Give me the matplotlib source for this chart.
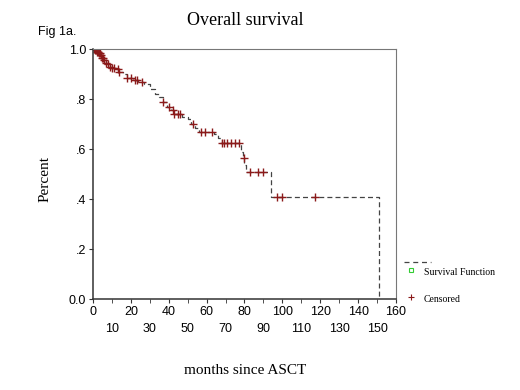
import numpy as np
import matplotlib.pyplot as plt
from matplotlib.lines import Line2D

# Kaplan-Meier step values
event_months = [0, 1, 2, 3, 4, 5, 6, 7, 8, 9, 10, 12, 14, 16, 18, 21, 24, 27, 30, 33,
                35, 37, 39, 41, 43, 47, 50, 52, 54, 56, 64, 66, 68, 78, 79, 80, 81, 94, 151]
survival = [1.0, .995, .99, .985, .975, .965, .955, .945, .94, .93, .925, .92, .91, .90, .885,
            .875, .87, .86, .84, .82, .81, .79, .77, .755, .74, .73, .72, .70, .685, .67,
            .66, .645, .625, .59, .565, .535, .51, .41, 0.0]

# censored observations (months)
censored_months = [0.5, 1, 1.5, 2, 2.5, 3, 3.5, 4, 5, 5.5, 6, 7, 8, 9, 10, 11, 13, 14, 18, 20,
                   22, 23, 26, 37, 40, 42, 43, 45, 46, 53, 57, 59, 63, 68, 69, 71, 73, 75, 77,
                   79.5, 83, 87, 90, 97, 100, 117]

even_ticks = [0, 20, 40, 60, 80, 100, 120, 140, 160]
odd_ticks = [10, 30, 50, 70, 90, 110, 130, 150]
y_ticks = [0.0, 0.2, 0.4, 0.6, 0.8, 1.0]
y_labels = ["0.0", ".2", ".4", ".6", ".8", "1.0"]

line_col = "#444444"
cens_col = "#8b1a1a"
serif = "Liberation Serif"
sans = "Liberation Sans"

fig = plt.figure(figsize=(5.2, 3.9), dpi=100)
ax = fig.add_axes([0.1788, 0.2333, 0.5827, 0.641])

ax.step(event_months, survival, where="post", color=line_col, lw=0.9,
        linestyle=(0, (4, 2.5)))

# survival value at each censored time
idx = np.searchsorted(event_months, censored_months, side="right") - 1
cens_surv = np.array(survival)[idx]
ax.plot(censored_months, cens_surv, linestyle="none", marker="+", color=cens_col,
        markersize=5.5, markeredgewidth=1.0)

ax.set_xlim(0, 160)
ax.set_ylim(0, 1.0)
ax.set_xticks(even_ticks)
ax.set_xticks(odd_ticks, minor=True)
ax.set_xticklabels([str(t) for t in even_ticks], fontsize=9, family=sans)
ax.set_xticklabels([str(t) for t in odd_ticks], minor=True, fontsize=9, family=sans)
ax.tick_params(axis="x", which="major", length=3, pad=2, color="#333333")
ax.tick_params(axis="x", which="minor", length=3, pad=14, color="#333333")
ax.set_yticks(y_ticks)
ax.set_yticklabels(y_labels, fontsize=9, family=sans)
ax.tick_params(axis="y", length=3, pad=2, color="#333333")

for s in ["left", "bottom"]:
    ax.spines[s].set_color("#333333")
    ax.spines[s].set_linewidth(1.1)
for s in ["top", "right"]:
    ax.spines[s].set_color("#777777")
    ax.spines[s].set_linewidth(0.8)

fig.text(0.471, 0.948, "Overall survival", ha="center", va="center", fontsize=13, family=serif)
fig.text(0.073, 0.918, "Fig 1a.", ha="left", va="center", fontsize=9, family=sans)
fig.text(0.087, 0.54, "Percent", rotation=90, ha="center", va="center", fontsize=11, family=serif)
fig.text(0.471, 0.051, "months since ASCT", ha="center", va="center", fontsize=11, family=serif)

# SPSS style legend outside the plot
fig.add_artist(Line2D([0.777, 0.828], [0.328, 0.328], color=line_col, lw=0.9,
                      linestyle=(0, (4, 3))))
fig.add_artist(Line2D([0.79], [0.307], marker="s", markersize=3.5, markerfacecolor="none",
                      markeredgecolor="#33cc33", markeredgewidth=0.8))
fig.text(0.815, 0.302, "Survival Function", ha="left", va="center", fontsize=7, family=serif)
fig.add_artist(Line2D([0.79], [0.238], marker="+", markersize=4, color=cens_col,
                      markeredgewidth=0.8))
fig.text(0.815, 0.233, "Censored", ha="left", va="center", fontsize=7, family=serif)

fig.savefig("out.png", dpi=100)
